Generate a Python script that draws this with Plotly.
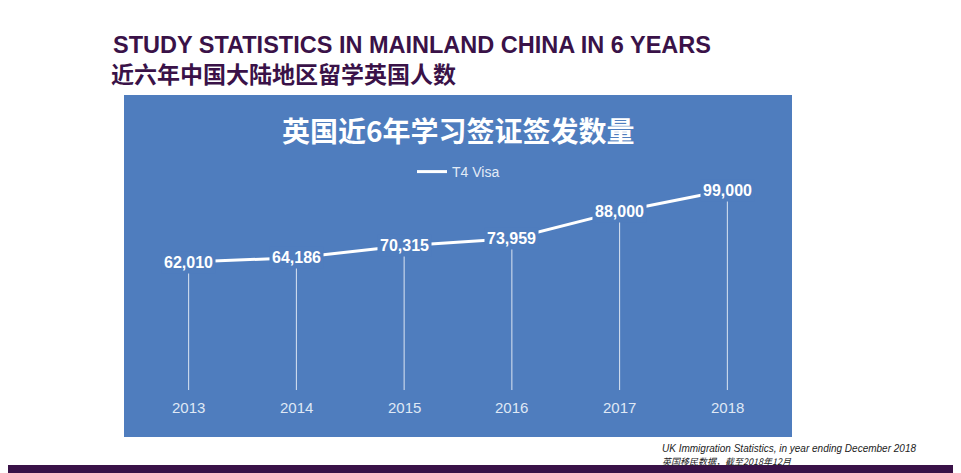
import plotly.graph_objects as go

years = ["2013", "2014", "2015", "2016", "2017", "2018"]
visas = [62010, 64186, 70315, 73959, 88000, 99000]
base_value = -3760
tick_value = -12483

PANEL = "#4f7dbe"
PURPLE = "#3a1248"
W, H = 961, 473
OFF = 8  # page body margin


def px(x):
    return (x - OFF) / W


def py(y):
    return 1 - (y - OFF) / H


fig = go.Figure()
fig.add_trace(go.Scatter(
    x=list(range(len(years))), y=visas, mode="lines", name="T4 Visa",
    line=dict(color="white", width=3),
    error_y=dict(type="data", symmetric=False, array=[0] * len(visas),
                 arrayminus=[v - base_value for v in visas],
                 color="rgba(255,255,255,0.8)", thickness=1, width=0),
))

for i, v in enumerate(visas):
    fig.add_annotation(x=i, y=v, text=f"<b>{v:,}</b>", showarrow=False,
                       font=dict(family="Liberation Sans", size=16, color="white"),
                       bgcolor=PANEL, borderpad=2)
    fig.add_annotation(x=i, y=tick_value, text=years[i], showarrow=False,
                       font=dict(family="Liberation Sans", size=15, color="#dfe8f5"))

fig.add_annotation(xref="paper", yref="paper", x=px(458), y=py(130), yanchor="middle",
                   text="<b>英国近6年学习签证签发数量</b>",
                   showarrow=False, font=dict(family="Noto Sans CJK SC", size=28, color="white"))

fig.add_annotation(xref="paper", yref="paper", x=px(111), y=py(45), xanchor="left", yanchor="middle",
                   text="<b>STUDY STATISTICS IN MAINLAND CHINA IN 6 YEARS</b>", showarrow=False,
                   font=dict(family="Liberation Sans", size=23.5, color=PURPLE))
fig.add_annotation(xref="paper", yref="paper", x=px(109), y=py(73), xanchor="left", yanchor="middle",
                   text="<b>近六年中国大陆地区留学英国人数</b>", showarrow=False,
                   font=dict(family="Noto Sans CJK SC", size=23, color=PURPLE))
fig.add_annotation(xref="paper", yref="paper", x=px(660), y=py(448), xanchor="left", yanchor="middle",
                   text="<i>UK Immigration Statistics, in year ending December 2018</i>", showarrow=False,
                   font=dict(family="Liberation Sans", size=10, color="#222"))
fig.add_annotation(xref="paper", yref="paper", x=px(660), y=py(461), xanchor="left", yanchor="middle",
                   text="<i>英国移民数据，截至2018年12月</i>", showarrow=False,
                   font=dict(family="Noto Sans CJK SC", size=9, color="#222"))
fig.add_shape(type="rect", xref="paper", yref="paper", x0=-0.01, x1=1.01, y0=py(476), y1=py(465),
              fillcolor=PURPLE, line_width=0)

fig.update_layout(
    width=W, height=H, paper_bgcolor="white", plot_bgcolor=PANEL,
    margin=dict(l=0, r=0, t=0, b=0),
    xaxis=dict(range=[-0.6, 5.6], visible=False, domain=[px(124), px(792)]),
    yaxis=dict(range=[-27895, 147805], visible=False, domain=[py(437), py(95)]),
    showlegend=True,
    legend=dict(x=px(412), y=py(172), xanchor="left", yanchor="middle", bgcolor="rgba(0,0,0,0)",
                font=dict(family="Liberation Sans", size=14, color="#e3ebf6"), itemwidth=30),
)
fig.write_html("out.html")
